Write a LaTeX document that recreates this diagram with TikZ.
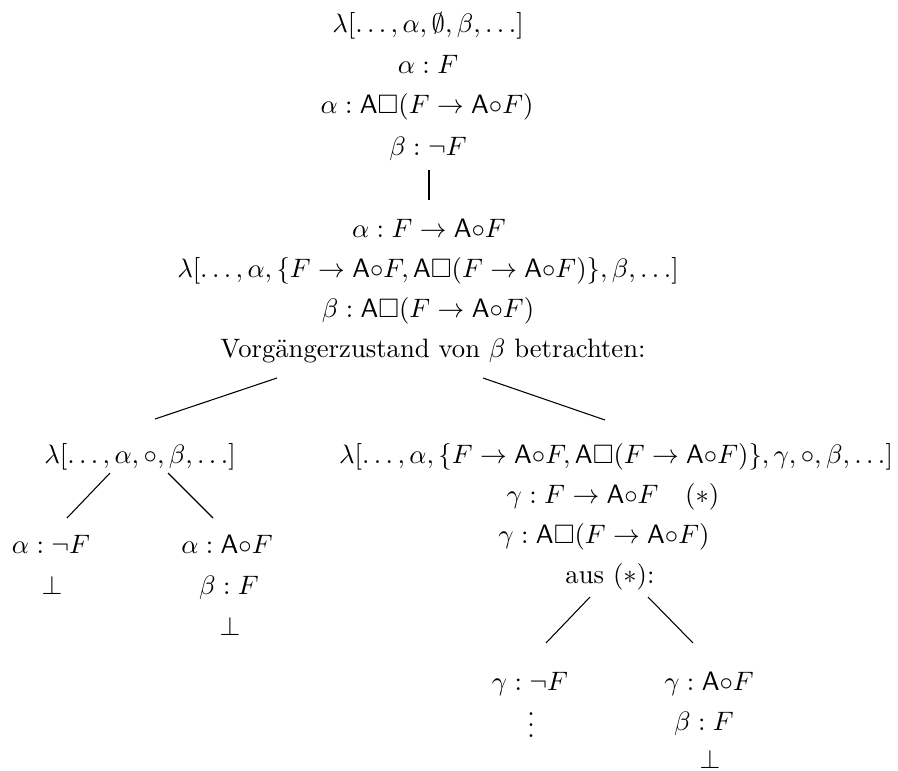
\documentclass[tikz,border=0pt]{standalone}
\usepackage{amssymb}
\begin{document}
\begin{tikzpicture}[x=0.375pt,y=-0.375pt,
  row/.style={anchor=base,inner sep=0pt,outer sep=0pt},
  edge/.style={draw=black,line width=0.4pt}]
\useasboundingbox (0,0) rectangle (898,770);
\newcommand{\Aop}{\mathsf{A}}
\newcommand{\tightvdots}{\vbox{\baselineskip4pt\lineskiplimit0pt\hbox{.}\hbox{.}\hbox{.}}}
% main column
\node[row] (r1) at (428,33) {$\lambda[\ldots,\alpha,\emptyset,\beta,\ldots]$};
\node[row] (r2) at (428,74) {$\alpha : F$};
\node[row] (r3) at (427,114) {$\alpha : \Aop\Box(F \rightarrow \Aop{\circ}F)$};
\node[row] (r4) at (428,155) {$\beta : \neg F$};
\coordinate (v1) at (429,170);
\coordinate (v2) at (429,200);
\node[row] (r5) at (429,237) {$\alpha : F \rightarrow \Aop{\circ}F$};
\node[row] (r6) at (428,277) {$\lambda[\ldots,\alpha,\{F \rightarrow \Aop{\circ}F,\Aop\Box(F \rightarrow \Aop{\circ}F)\},\beta,\ldots]$};
\node[row] (r7) at (428,317) {$\beta : \Aop\Box(F \rightarrow \Aop{\circ}F)$};
\node[row] (r8) at (433,357) {Vorgängerzustand von $\beta$ betrachten:};
\coordinate (s1) at (277,378);
\coordinate (s2) at (155,419);
\coordinate (s3) at (483,378);
\coordinate (s4) at (605,420);
% left subtree
\node[row] (l1) at (140,463) {$\lambda[\ldots,\alpha,{\circ},\beta,\ldots]$};
\coordinate (a1) at (110,473);
\coordinate (a2) at (67,518);
\coordinate (a3) at (168,473);
\coordinate (a4) at (213,518);
\node[row] (l2) at (51,553) {$\alpha : \neg F$};
\node[row] (l3) at (52,594) {$\bot$};
\node[row] (l4) at (227,553) {$\alpha : \Aop{\circ}F$};
\node[row] (l5) at (229,594) {$\beta : F$};
\node[row] (l6) at (230,635) {$\bot$};
% right subtree
\node[row] (q1) at (616,463) {$\lambda[\ldots,\alpha,\{F \rightarrow \Aop{\circ}F,\Aop\Box(F \rightarrow \Aop{\circ}F)\},\gamma,{\circ},\beta,\ldots]$};
\node[row] (q2) at (613,503) {$\gamma : F \rightarrow \Aop{\circ}F \quad (\ast)$};
\node[row] (q3) at (604,543) {$\gamma : \Aop\Box(F \rightarrow \Aop{\circ}F)$};
\node[row] (q4) at (610,583) {aus $(\ast)$:};
\coordinate (b1) at (590,597);
\coordinate (b2) at (546,643);
\coordinate (b3) at (648,597);
\coordinate (b4) at (693,643);
\node[row] (q5) at (530,690) {$\gamma : \neg F$};
\node[row] (q6) at (531,737) {\tightvdots};
\node[row] (q7) at (709,690) {$\gamma : \Aop{\circ}F$};
\node[row] (q8) at (704,730) {$\beta : F$};
\node[row] (q9) at (710,768) {$\bot$};
% connectors
\draw[edge] (v1) -- (v2);
\draw[edge] (s1) -- (s2);
\draw[edge] (s3) -- (s4);
\draw[edge] (a1) -- (a2);
\draw[edge] (a3) -- (a4);
\draw[edge] (b1) -- (b2);
\draw[edge] (b3) -- (b4);
\end{tikzpicture}
\end{document}
